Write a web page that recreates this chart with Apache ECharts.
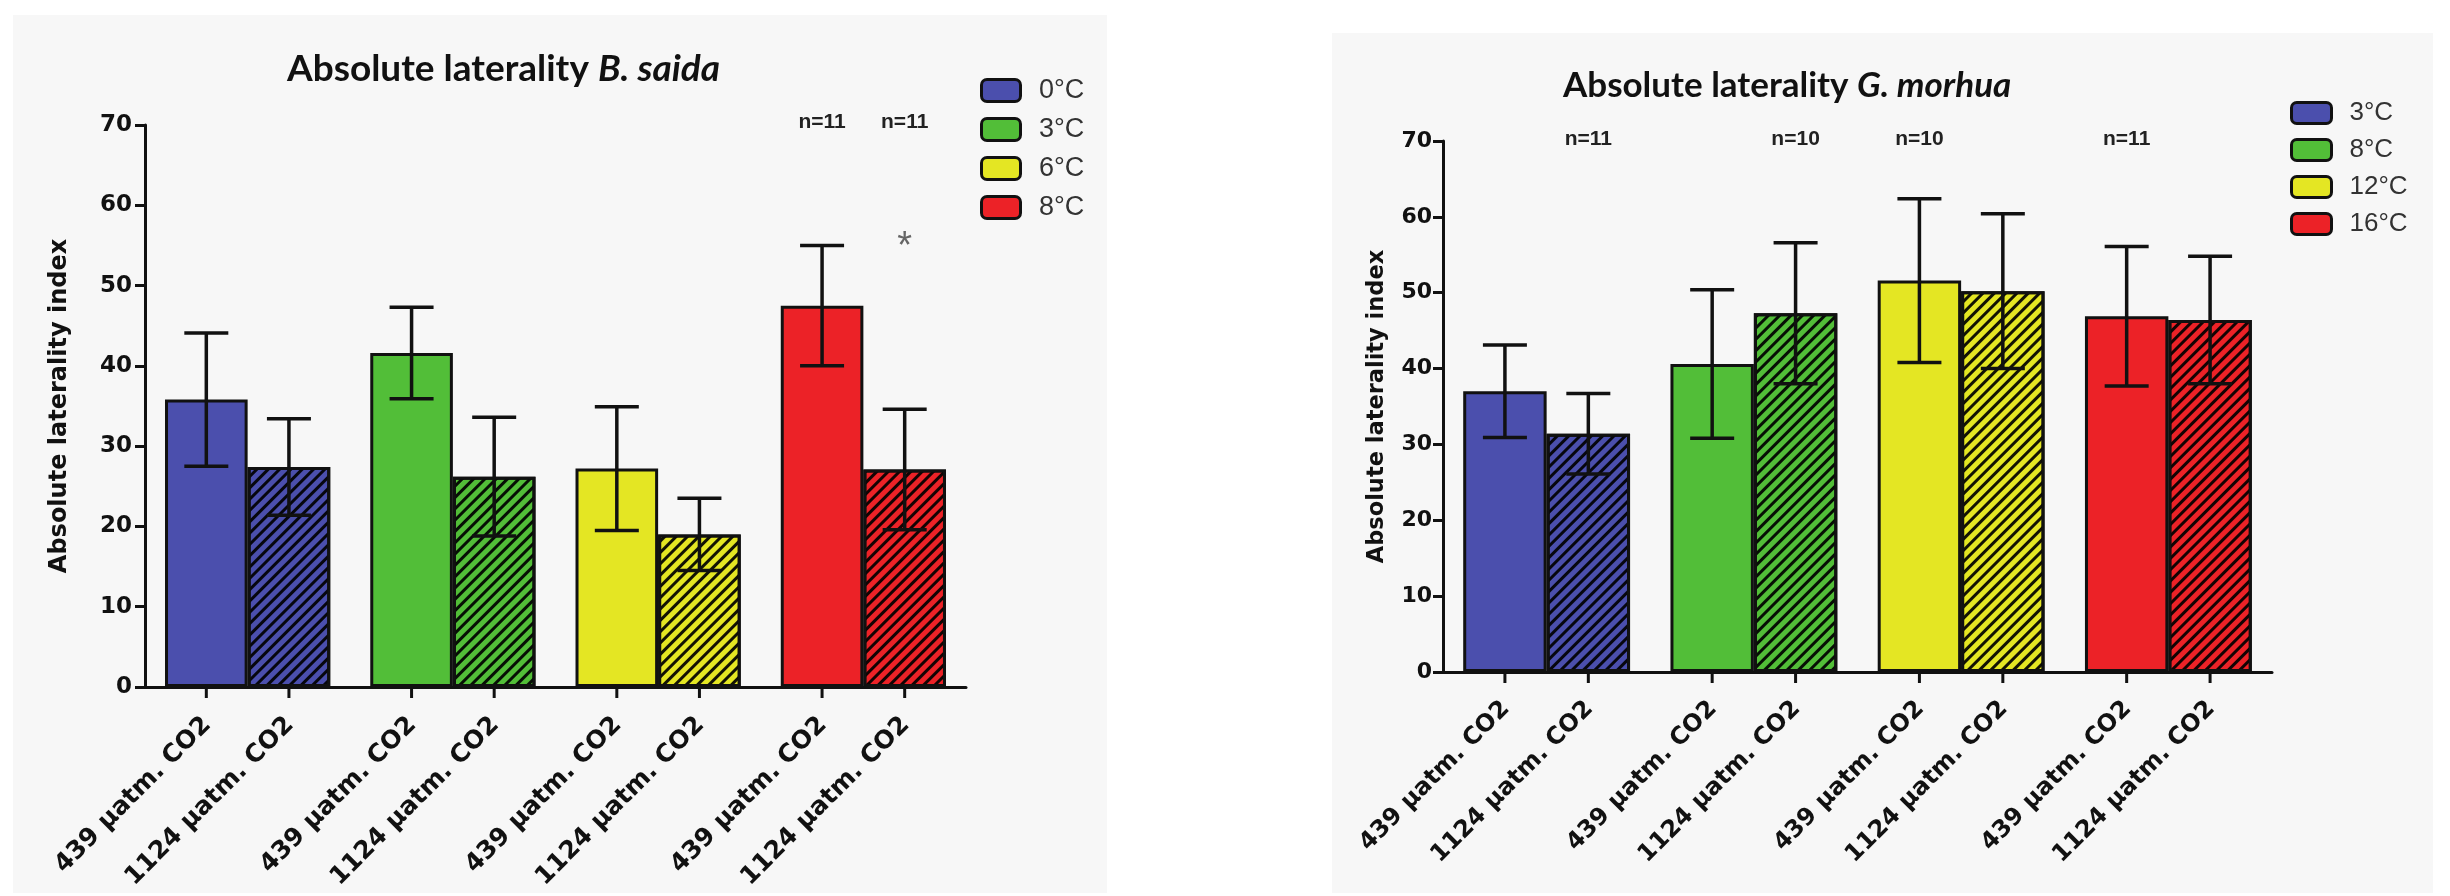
<!DOCTYPE html>
<html><head><meta charset="utf-8">
<script src="https://cdn.jsdelivr.net/npm/echarts@6/dist/echarts.min.js"></script>
<style>html,body{margin:0;padding:0;background:#fff;}#c{width:2450px;height:896px;}</style>
</head><body><div id="c"></div>
<script>
// ---------- data ----------
const co2Labels = ['439 µatm. CO2', '1124 µatm. CO2'];
const tempColors = ['#4b4fad', '#52be38', '#e4e623', '#ec2227'];

const saidaCats = ['0°C', '3°C', '6°C', '8°C'];
const saida439 = [35.8, 41.6, 27.2, 47.5];
const saida439Err = [8.3, 5.7, 7.7, 7.5];
const saida1124 = [27.4, 26.2, 19.0, 27.1];
const saida1124Err = [6.0, 7.4, 4.5, 7.5];
const saida439N = ['', '', '', 'n=11'];
const saida1124N = ['', '', '', 'n=11'];
const saida1124Sig = ['', '', '', '*'];

const morhuaCats = ['3°C', '8°C', '12°C', '16°C'];
const morhua439 = [37.0, 40.6, 51.6, 46.9];
const morhua439Err = [6.1, 9.8, 10.8, 9.2];
const morhua1124 = [31.4, 47.3, 50.2, 46.4];
const morhua1124Err = [5.3, 9.3, 10.2, 8.4];
const morhua439N = ['', '', 'n=10', 'n=11'];
const morhua1124N = ['n=11', 'n=10', '', ''];
const noSig = ['', '', '', ''];

const yMin = 0, yMax = 70, yStep = 10;

// ---------- styling constants ----------
const GAP = 0.195;
const N_LEVEL = 70.3;
const SIG_LEVEL = 54.8;
const INK = '#111';

const panels = [
  { key: 'L', title: 'Absolute laterality ', species: 'B. saida', cats: saidaCats,
    v439: saida439, e439: saida439Err, v1124: saida1124, e1124: saida1124Err,
    n439: saida439N, n1124: saida1124N, s439: noSig, s1124: saida1124Sig,
    grid: { left: 145, top: 125, width: 821, height: 562 },
    titlePos: { left: 287, top: 51 }, titleSize: 37,
    legendPos: { left: 980, top: 77 }, legendBox: [39, 22], legendFont: 27, legendGap: 12,
    tickFont: 23, tickMargin: 13, nameFont: 24, nameGap: 73, labelFont: 25, cap: 22,
    labelDX: 1, labelDY: 34 },
  { key: 'R', title: 'Absolute laterality ', species: 'G. morhua', cats: morhuaCats,
    v439: morhua439, e439: morhua439Err, v1124: morhua1124, e1124: morhua1124Err,
    n439: morhua439N, n1124: morhua1124N, s439: noSig, s1124: noSig,
    grid: { left: 1443, top: 141, width: 829, height: 531 },
    titlePos: { left: 1563, top: 68 }, titleSize: 35,
    legendPos: { left: 2290, top: 100 }, legendBox: [40, 21], legendFont: 26, legendGap: 11,
    tickFont: 22, tickMargin: 11, nameFont: 22.5, nameGap: 54, labelFont: 24, cap: 22,
    labelDX: 1, labelDY: 33 }
];

function makeRenderer(meta, p) {
  return function (params, api) {
    const cat = api.value(0), sub = api.value(1), mean = api.value(2), err = api.value(3);
    const band = api.size([1, 0])[0];
    const barW = band * (1 - GAP) / 2;
    const base = api.coord([cat, 0]);
    const cx = base[0] + (sub - 0.5) * barW;
    const yTop = api.coord([cat, mean + err])[1];
    const yBot = api.coord([cat, mean - err])[1];
    const m = meta[params.dataIndex];
    const line = (x1, y1, x2, y2, w) => ({ type: 'line', shape: { x1, y1, x2, y2 },
      style: { stroke: INK, lineWidth: w } });
    const children = [
      line(cx, yTop, cx, yBot, 3.5),
      line(cx - p.cap, yTop, cx + p.cap, yTop, 3.5),
      line(cx - p.cap, yBot, cx + p.cap, yBot, 3.5),
      line(cx, base[1], cx, base[1] + 11, 3),
      { type: 'text', x: cx + p.labelDX, y: base[1] + p.labelDY, rotation: Math.PI / 4,
        style: { text: m.label, fill: INK, fontFamily: 'DejaVu Sans', fontWeight: 'bold',
          fontSize: p.labelFont, align: 'right', verticalAlign: 'middle' } }
    ];
    if (m.n) children.push({ type: 'text', x: cx, y: api.coord([cat, N_LEVEL])[1],
      style: { text: m.n, fill: '#222', fontFamily: 'Liberation Sans', fontWeight: 'bold',
        fontSize: 21, align: 'center', verticalAlign: 'middle' } });
    if (m.sig) children.push({ type: 'text', x: cx, y: api.coord([cat, SIG_LEVEL])[1],
      style: { text: m.sig, fill: '#666', fontFamily: 'Liberation Sans',
        fontSize: 38, align: 'center', verticalAlign: 'middle' } });
    return { type: 'group', children };
  };
}

const option = {
  animation: false,
  backgroundColor: '#ffffff',
  graphic: [
    { type: 'rect', z: -10, silent: true, shape: { x: 13, y: 15, width: 1094, height: 878 }, style: { fill: '#f7f7f7' } },
    { type: 'rect', z: -10, silent: true, shape: { x: 1332, y: 33, width: 1101, height: 860 }, style: { fill: '#f7f7f7' } }
  ],
  title: [], legend: [], grid: [], xAxis: [], yAxis: [], series: []
};

panels.forEach((p, gi) => {
  option.title.push({
    left: p.titlePos.left, top: p.titlePos.top, padding: 0,
    text: '{a|' + p.title + '}{b|' + p.species + '}',
    textStyle: { rich: {
      a: { fontFamily: 'Lato', fontWeight: 'bold', fontSize: p.titleSize, color: INK },
      b: { fontFamily: 'Lato', fontWeight: 'bold', fontStyle: 'italic', fontSize: p.titleSize, color: INK }
    } }
  });
  option.legend.push({
    orient: 'vertical', left: p.legendPos.left, top: p.legendPos.top, padding: 0,
    icon: 'roundRect', itemWidth: p.legendBox[0], itemHeight: p.legendBox[1], itemGap: p.legendGap,
    selectedMode: false,
    data: p.cats.map(c => p.key + c),
    formatter: n => '\u2002' + n.slice(1),
    itemStyle: { borderColor: INK, borderWidth: 3, opacity: 1 },
    textStyle: { fontFamily: 'Liberation Sans', fontSize: p.legendFont, color: '#333' }
  });
  option.grid.push(Object.assign({ containLabel: false }, p.grid));
  option.xAxis.push({
    type: 'category', gridIndex: gi, data: p.cats,
    axisLine: { show: true, lineStyle: { color: INK, width: 3 } },
    axisTick: { show: false }, axisLabel: { show: false }, splitLine: { show: false }
  });
  option.yAxis.push({
    type: 'value', gridIndex: gi, min: yMin, max: yMax, interval: yStep,
    name: 'Absolute laterality index', nameLocation: 'middle', nameGap: p.nameGap, nameRotate: 90,
    nameTextStyle: { fontFamily: 'DejaVu Sans', fontWeight: 'bold', fontSize: p.nameFont, color: INK },
    axisLine: { show: true, lineStyle: { color: INK, width: 3 } },
    axisTick: { show: true, inside: false, length: 10, lineStyle: { color: INK, width: 3 } },
    axisLabel: { fontFamily: 'DejaVu Sans', fontWeight: 'bold', fontSize: p.tickFont, color: INK, margin: p.tickMargin },
    splitLine: { show: false }
  });
  const mk = vals => vals.map((v, k) => ({ value: v, itemStyle: { color: tempColors[k] } }));
  option.series.push({
    type: 'bar', name: co2Labels[0], xAxisIndex: gi, yAxisIndex: gi, data: mk(p.v439),
    barGap: '0%', barCategoryGap: (GAP * 100) + '%',
    itemStyle: { borderColor: INK, borderWidth: 3 }
  });
  option.series.push({
    type: 'bar', name: co2Labels[1], xAxisIndex: gi, yAxisIndex: gi, data: mk(p.v1124),
    barGap: '0%', barCategoryGap: (GAP * 100) + '%',
    itemStyle: { borderColor: INK, borderWidth: 3,
      decal: { symbol: 'rect', symbolSize: 1, dashArrayX: [1, 0], dashArrayY: [2.5, 4.2],
        rotation: -Math.PI / 4, color: 'rgba(0,0,0,0.92)' } }
  });
  const cdata = [], meta = [];
  p.cats.forEach((c, k) => {
    cdata.push([k, 0, p.v439[k], p.e439[k]]);
    meta.push({ label: co2Labels[0], n: p.n439[k], sig: p.s439[k] });
    cdata.push([k, 1, p.v1124[k], p.e1124[k]]);
    meta.push({ label: co2Labels[1], n: p.n1124[k], sig: p.s1124[k] });
  });
  option.series.push({
    type: 'custom', xAxisIndex: gi, yAxisIndex: gi, data: cdata, z: 10, silent: true, clip: false,
    encode: { x: 0, y: 2 }, renderItem: makeRenderer(meta, p)
  });
  p.cats.forEach((c, k) => option.series.push({
    type: 'scatter', name: p.key + c, xAxisIndex: gi, yAxisIndex: gi, data: [],
    itemStyle: { color: tempColors[k], opacity: 1, borderColor: INK, borderWidth: 3 }
  }));
});

const chart = echarts.init(document.getElementById('c'), null, { renderer: 'canvas' });
chart.setOption(option);
</script></body></html>
